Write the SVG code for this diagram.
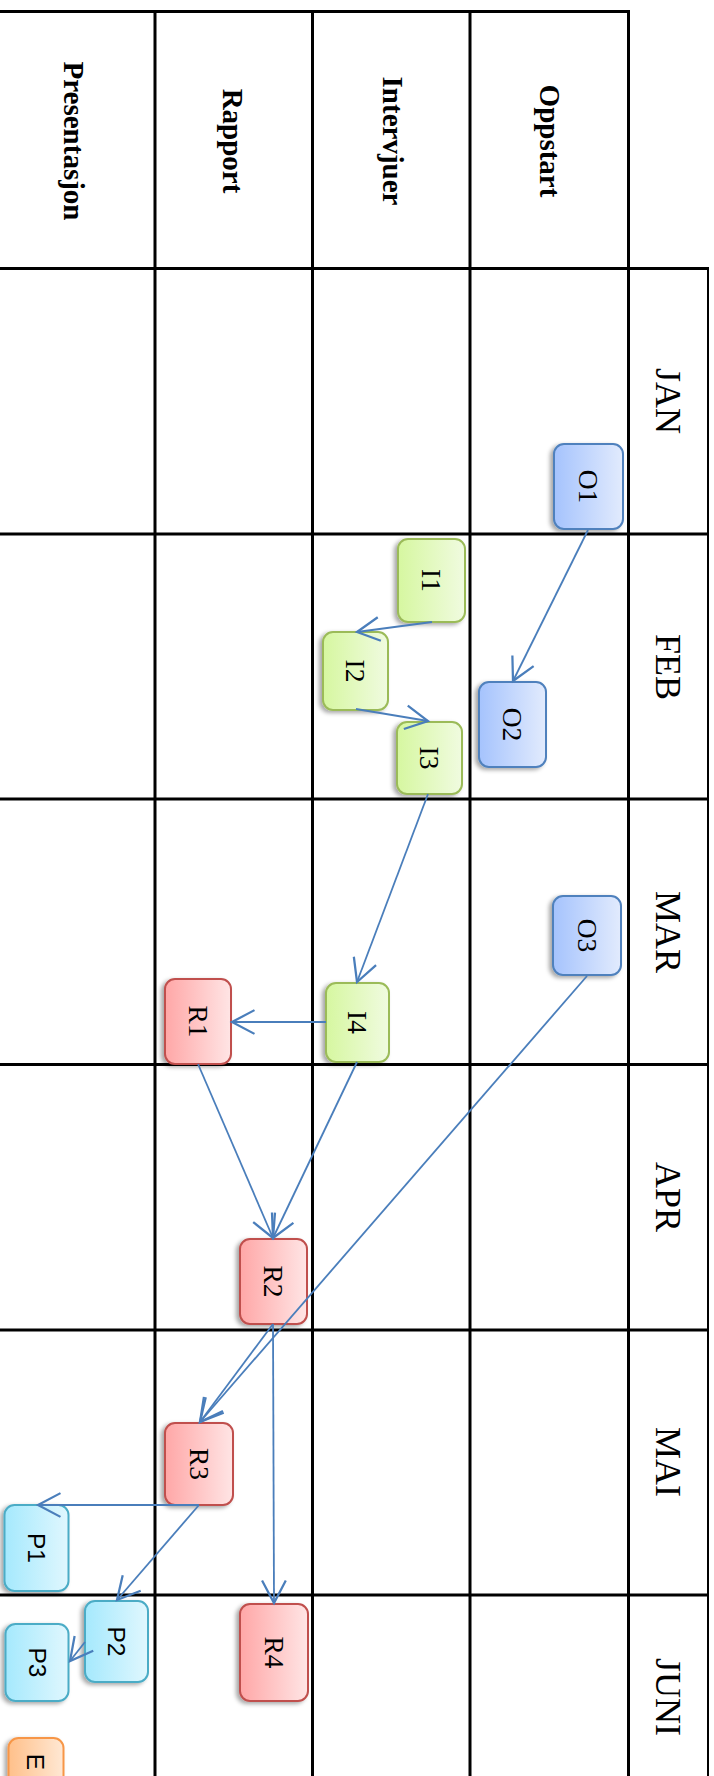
<svg xmlns="http://www.w3.org/2000/svg" width="714" height="1776" viewBox="0 0 714 1776">
<style>
.grid{stroke:#000;stroke-width:3;fill:none}
.gridthin{stroke:#000;stroke-width:2;fill:none}
.hdr{font-family:"Liberation Serif","Times New Roman",serif;font-weight:bold;font-size:29px;fill:#000;text-anchor:middle;dominant-baseline:central}
.mon{font-family:"Liberation Serif","Times New Roman",serif;font-size:36px;fill:#000;text-anchor:middle;dominant-baseline:central}
.lbl{font-family:"Liberation Serif","Times New Roman",serif;font-size:27.5px;fill:#000;text-anchor:middle;dominant-baseline:central}
.lbls{font-family:"Liberation Sans",Arial,sans-serif;font-size:24.5px;fill:#000;text-anchor:middle;dominant-baseline:central}
.node{stroke-width:2;filter:url(#sh)}
.blue{fill:url(#gBlue);stroke:#4f81bd}
.green{fill:url(#gGreen);stroke:#9bbb59}
.red{fill:url(#gRed);stroke:#c0504d}
.cyan{fill:url(#gCyan);stroke:#4bacc6}
.orange{fill:url(#gOrange);stroke:#f79646}
.conn{stroke:#4a7ebb;stroke-width:1.8;fill:none;marker-end:url(#arr)}
</style>
<defs>
<linearGradient id="gBlue" x1="0" y1="0" x2="1" y2="0"><stop offset="0" stop-color="#a5c3fd"/><stop offset="1" stop-color="#e2ebfd"/></linearGradient>
<linearGradient id="gGreen" x1="0" y1="0" x2="1" y2="0"><stop offset="0" stop-color="#d6f7a0"/><stop offset="1" stop-color="#f0fbe0"/></linearGradient>
<linearGradient id="gRed" x1="0" y1="0" x2="1" y2="0"><stop offset="0" stop-color="#ffa7a7"/><stop offset="1" stop-color="#ffe5e5"/></linearGradient>
<linearGradient id="gCyan" x1="0" y1="0" x2="1" y2="0"><stop offset="0" stop-color="#a5e9fd"/><stop offset="1" stop-color="#e0f7fe"/></linearGradient>
<linearGradient id="gOrange" x1="0" y1="0" x2="1" y2="0"><stop offset="0" stop-color="#ffc08a"/><stop offset="1" stop-color="#ffe8d4"/></linearGradient>
<filter id="sh" x="-30%" y="-30%" width="160%" height="160%"><feDropShadow dx="-3" dy="2" stdDeviation="2.2" flood-color="#000" flood-opacity="0.35"/></filter>
<marker id="arr" markerUnits="userSpaceOnUse" markerWidth="30" markerHeight="30" viewBox="-20 -12 24 24" refX="0" refY="0" orient="auto"><path d="M-18,-9.5 L0,0 L-18,9.5" fill="none" stroke="#4a7ebb" stroke-width="1.8"/></marker>
</defs>
<g id="grid">
<line class="grid" x1="0" y1="11.5" x2="629.5" y2="11.5"/>
<line class="grid" x1="155" y1="11.5" x2="155" y2="1776"/>
<line class="grid" x1="312.5" y1="11.5" x2="312.5" y2="1776"/>
<line class="grid" x1="470" y1="11.5" x2="470" y2="1776"/>
<line class="grid" x1="628.5" y1="10" x2="628.5" y2="1776"/>
<line class="gridthin" x1="708" y1="267.5" x2="708" y2="1776"/>
<line class="grid" x1="0" y1="268.5" x2="709" y2="268.5"/>
<line class="grid" x1="0" y1="534" x2="709" y2="534"/>
<line class="grid" x1="0" y1="799" x2="709" y2="799"/>
<line class="grid" x1="0" y1="1064.5" x2="709" y2="1064.5"/>
<line class="grid" x1="0" y1="1330" x2="709" y2="1330"/>
<line class="grid" x1="0" y1="1595" x2="709" y2="1595"/>
</g>
<g id="headers">
<text class="hdr" x="74" y="141" transform="rotate(90 74 141)">Presentasjon</text>
<text class="hdr" x="233" y="141" transform="rotate(90 233 141)">Rapport</text>
<text class="hdr" x="393" y="141" transform="rotate(90 393 141)">Intervjuer</text>
<text class="hdr" x="550" y="141" transform="rotate(90 550 141)">Oppstart</text>
</g>
<g id="months">
<text class="mon" x="668" y="401" transform="rotate(90 668 401)">JAN</text>
<text class="mon" x="668" y="667" transform="rotate(90 668 667)">FEB</text>
<text class="mon" x="668" y="932" transform="rotate(90 668 932)">MAR</text>
<text class="mon" x="668" y="1197" transform="rotate(90 668 1197)">APR</text>
<text class="mon" x="668" y="1462" transform="rotate(90 668 1462)">MAI</text>
<text class="mon" x="668" y="1697" transform="rotate(90 668 1697)">JUNI</text>
</g>
<g id="O1"><rect class="node blue" x="554" y="444" width="69" height="85" rx="10"/><text class="lbl" x="588.5" y="486.5" transform="rotate(90 588.5 486.5)">O1</text></g>
<g id="O2"><rect class="node blue" x="479" y="682" width="67" height="85" rx="10"/><text class="lbl" x="512.5" y="724.5" transform="rotate(90 512.5 724.5)">O2</text></g>
<g id="O3"><rect class="node blue" x="553" y="896" width="68" height="79" rx="10"/><text class="lbl" x="587" y="935.5" transform="rotate(90 587 935.5)">O3</text></g>
<g id="I1"><rect class="node green" x="398" y="539" width="67" height="83" rx="10"/><text class="lbl" x="431.5" y="580.5" transform="rotate(90 431.5 580.5)">I1</text></g>
<g id="I2"><rect class="node green" x="323" y="632" width="65" height="78" rx="10"/><text class="lbl" x="355.5" y="671" transform="rotate(90 355.5 671)">I2</text></g>
<g id="I3"><rect class="node green" x="397" y="722" width="65" height="72" rx="10"/><text class="lbl" x="429.5" y="758" transform="rotate(90 429.5 758)">I3</text></g>
<g id="I4"><rect class="node green" x="326" y="983" width="63" height="79" rx="10"/><text class="lbl" x="357.5" y="1022.5" transform="rotate(90 357.5 1022.5)">I4</text></g>
<g id="R1"><rect class="node red" x="165" y="979" width="66" height="85" rx="10"/><text class="lbl" x="198" y="1021.5" transform="rotate(90 198 1021.5)">R1</text></g>
<g id="R2"><rect class="node red" x="240" y="1239" width="67" height="85" rx="10"/><text class="lbl" x="273.5" y="1281.5" transform="rotate(90 273.5 1281.5)">R2</text></g>
<g id="R3"><rect class="node red" x="165" y="1423" width="68" height="82" rx="10"/><text class="lbl" x="199" y="1464" transform="rotate(90 199 1464)">R3</text></g>
<g id="R4"><rect class="node red" x="240" y="1604" width="68" height="97" rx="10"/><text class="lbl" x="274" y="1652.5" transform="rotate(90 274 1652.5)">R4</text></g>
<g id="P1"><rect class="node cyan" x="4.5" y="1505" width="64" height="86" rx="10"/><text class="lbls" x="36.5" y="1548" transform="rotate(90 36.5 1548)">P1</text></g>
<g id="P2"><rect class="node cyan" x="85" y="1601" width="63" height="81" rx="10"/><text class="lbls" x="116.5" y="1641.5" transform="rotate(90 116.5 1641.5)">P2</text></g>
<g id="P3"><rect class="node cyan" x="5.5" y="1624" width="63" height="77" rx="10"/><text class="lbls" x="37" y="1662.5" transform="rotate(90 37 1662.5)">P3</text></g>
<g id="E"><rect class="node orange" x="8.5" y="1738" width="55" height="80" rx="10"/><text class="lbls" x="35" y="1762" transform="rotate(90 35 1762)">E</text></g>
<g id="connectors">
<path class="conn" d="M588,530 L513,681"/>
<path class="conn" d="M432,622 L357,632"/>
<path class="conn" d="M356,709 L428,721"/>
<path class="conn" d="M428,794 L357,982"/>
<path class="conn" d="M326,1022 L232,1022"/>
<path class="conn" d="M198,1064 L273,1238"/>
<path class="conn" d="M357,1062 L273,1238"/>
<path class="conn" d="M587,976 L200,1422"/>
<path class="conn" d="M273,1324 L200,1422"/>
<path class="conn" d="M273,1324 L274,1603"/>
<path class="conn" d="M199,1505 L38,1505"/>
<path class="conn" d="M199,1505 L117,1600"/>
<path class="conn" d="M85,1642 L70,1661"/>
</g>
</svg>
